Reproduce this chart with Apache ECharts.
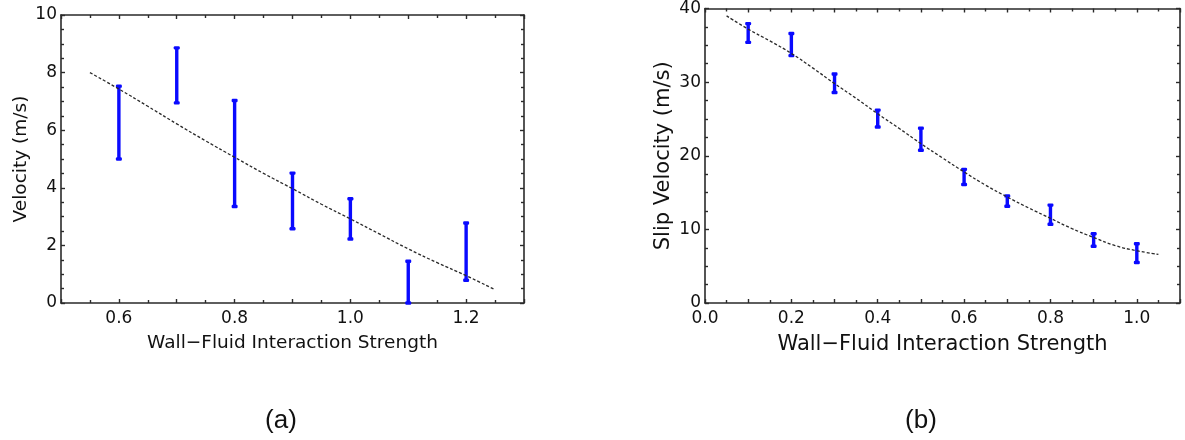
<!DOCTYPE html>
<html>
<head>
<meta charset="utf-8">
<script src="https://cdn.jsdelivr.net/npm/echarts@6/dist/echarts.min.js"></script>
<style>
    html, body { margin: 0; padding: 0; background: #fff; }
    #chart { width: 1185px; height: 440px; }
</style>
</head>
<body>
<div id="chart"></div>
<script>
// panel (a)
const leftX = [0.6, 0.7, 0.8, 0.9, 1.0, 1.1, 1.2]
const leftLow = [5.0, 6.95, 3.35, 2.58, 2.22, 0, 0.79]
const leftHigh = [7.53, 8.86, 7.03, 4.51, 3.62, 1.45, 2.78]
const leftFitX = [0.55, 0.6, 0.65, 0.7, 0.75, 0.8, 0.85, 0.9, 0.95, 1.0, 1.05, 1.1, 1.15, 1.2, 1.25]
const leftFitY = [8.0, 7.43, 6.83, 6.22, 5.63, 5.06, 4.5, 3.97, 3.43, 2.92, 2.4, 1.88, 1.4, 0.95, 0.46]

// panel (b)
const rightX = [0.1, 0.2, 0.3, 0.4, 0.5, 0.6, 0.7, 0.8, 0.9, 1.0]
const rightLow = [35.4, 33.6, 28.6, 23.9, 20.75, 16.1, 13.15, 10.7, 7.7, 5.5]
const rightHigh = [37.95, 36.6, 31.1, 26.2, 23.75, 18.15, 14.55, 13.3, 9.4, 8.05]
const rightFitX = [0.05, 0.1, 0.15, 0.2, 0.25, 0.3, 0.35, 0.4, 0.45, 0.5, 0.55, 0.6, 0.65, 0.7, 0.75, 0.8, 0.85, 0.9, 0.95, 1.0, 1.05]
const rightFitY = [39.0, 37.2, 35.6, 33.9, 31.9, 29.8, 27.8, 25.7, 23.7, 21.65, 19.7, 17.8, 16.0, 14.4, 12.9, 11.5, 10.1, 8.9, 7.8, 7.1, 6.6]

const xTitle = 'Wall\u2212Fluid Interaction Strength'
const font = 'DejaVu Sans'
const frameColor = '#2a2a2a'

const zip = (a, b) => a.map((v, i) => [v, b[i]])
const evenTenth = (v) => (Math.round(v * 10) % 2 === 0 ? v.toFixed(1) : '')

// shared look for the boxed axes, ticks pointing inward
const axisBase = (extra) => Object.assign({
    type: 'value',
    axisLine: { show: true, onZero: false, lineStyle: { color: frameColor, width: 1.6 } },
    axisTick: { show: true, inside: true, length: 4, lineStyle: { color: frameColor, width: 1.4 } },
    splitLine: { show: false },
}, extra)

const minor = (split) => ({ show: true, splitNumber: split, length: 3, lineStyle: { color: frameColor, width: 1.4 } })

const xPair = (grid, min, max, split, nameSize, gap) => [
    axisBase({
        gridIndex: grid, position: 'bottom', min, max, interval: 0.1,
        minorTick: minor(split),
        axisLabel: { color: '#111', fontFamily: font, fontSize: 17, margin: 7, formatter: evenTenth },
        name: xTitle, nameLocation: 'middle', nameGap: gap,
        nameTextStyle: { color: '#111', fontFamily: font, fontSize: nameSize },
    }),
    axisBase({
        gridIndex: grid, position: 'top', min, max, interval: 0.1,
        minorTick: minor(split),
        axisLabel: { show: false },
    }),
]

const yPair = (grid, max, interval, split, name, nameSize, gap) => [
    axisBase({
        gridIndex: grid, position: 'left', min: 0, max, interval,
        minorTick: minor(split),
        axisLabel: { color: '#111', fontFamily: font, fontSize: 17, margin: 4 },
        name, nameLocation: 'middle', nameGap: gap,
        nameTextStyle: { color: '#111', fontFamily: font, fontSize: nameSize },
    }),
    axisBase({
        gridIndex: grid, position: 'right', min: 0, max, interval,
        minorTick: minor(split),
        axisLabel: { show: false },
    }),
]

// vertical error bar with small caps
const errorBar = (params, api) => {
    const x = api.value(0)
    const top = api.coord([x, api.value(2)])
    const bot = api.coord([x, api.value(1)])
    const style = { stroke: '#0a0aff', lineWidth: 3.4 }
    const cap = (p) => ({
        type: 'rect',
        shape: { x: p[0] - 3, y: p[1] - 1.7, width: 6, height: 3.4, r: 1.2 },
        style: { fill: '#0a0aff' },
    })
    return {
        type: 'group',
        children: [
            { type: 'line', shape: { x1: top[0], y1: top[1], x2: bot[0], y2: bot[1] }, style },
            cap(top),
            cap(bot),
        ],
    }
}

const fitLine = (xi, yi, data) => ({
    type: 'line',
    xAxisIndex: xi,
    yAxisIndex: yi,
    data,
    smooth: true,
    showSymbol: false,
    silent: true,
    z: 3,
    lineStyle: { color: '#2a2a2a', width: 1.3, type: [3, 2] },
})

const bars = (xi, yi, xs, lo, hi) => ({
    type: 'custom',
    xAxisIndex: xi,
    yAxisIndex: yi,
    data: xs.map((x, i) => [x, lo[i], hi[i]]),
    renderItem: errorBar,
    z: 2,
})

const chart = echarts.init(document.getElementById('chart'))
chart.setOption({
    animation: false,
    grid: [
        { left: 61, top: 15, width: 463, height: 288 },
        { left: 705, top: 8, width: 475, height: 295 },
    ],
    xAxis: [
        ...xPair(0, 0.5, 1.3, 2, 18.5, 31),
        ...xPair(1, 0, 1.1, 2, 21, 31),
    ],
    yAxis: [
        ...yPair(0, 10, 2, 4, 'Velocity (m/s)', 18.5, 30),
        ...yPair(1, 40, 10, 4, 'Slip Velocity (m/s)', 21, 31),
    ],
    series: [
        bars(0, 0, leftX, leftLow, leftHigh),
        fitLine(0, 0, zip(leftFitX, leftFitY)),
        bars(2, 2, rightX, rightLow, rightHigh),
        fitLine(2, 2, zip(rightFitX, rightFitY)),
    ],
    graphic: [
        { type: 'text', x: 281, y: 421, style: { text: '(a)', font: '26px "Liberation Sans"', fill: '#111', align: 'center', verticalAlign: 'middle' } },
        { type: 'text', x: 921, y: 421, style: { text: '(b)', font: '26px "Liberation Sans"', fill: '#111', align: 'center', verticalAlign: 'middle' } },
    ],
})
</script>
</body>
</html>
